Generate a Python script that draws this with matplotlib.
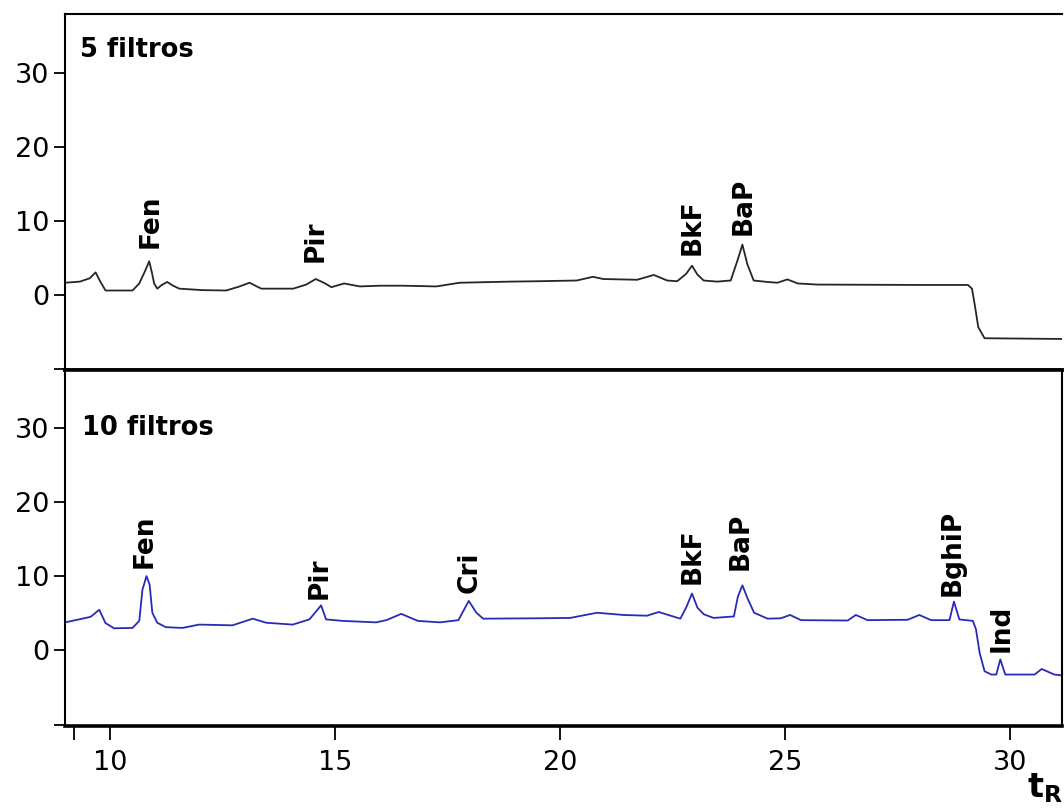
import numpy as np
import matplotlib
matplotlib.use("Agg")
import matplotlib.pyplot as plt

# chromatogram, 5 filtros
t5 = [9.0, 9.33, 9.55, 9.68, 9.78, 9.9, 10.5, 10.65, 10.78, 10.87,
      10.93, 10.98, 11.05, 11.15, 11.27, 11.4, 11.54, 12.05, 12.58, 12.88,
      13.1, 13.36, 14.07, 14.36, 14.57, 14.75, 14.92, 15.2, 15.55, 16.0,
      16.5, 17.25, 17.77, 18.89, 19.48, 20.37, 20.73, 20.96, 21.71, 22.08,
      22.38, 22.6, 22.8, 22.93, 23.05, 23.19, 23.49, 23.79, 23.94, 24.05,
      24.16, 24.3, 24.61, 24.83, 25.05, 25.28, 25.72, 27.95, 29.06, 29.15,
      29.21, 29.29, 29.43, 31.2]
y5 = [1.6, 1.75, 2.2, 3.0, 1.8, 0.55, 0.55, 1.5, 3.2, 4.5,
      3.0, 1.5, 0.8, 1.3, 1.7, 1.2, 0.8, 0.6, 0.55, 1.1,
      1.6, 0.8, 0.8, 1.35, 2.1, 1.6, 1.0, 1.5, 1.1, 1.2,
      1.2, 1.1, 1.6, 1.75, 1.8, 1.9, 2.4, 2.1, 2.0, 2.65,
      1.9, 1.8, 2.8, 3.9, 2.7, 1.9, 1.75, 1.9, 4.6, 6.75,
      4.1, 1.9, 1.7, 1.6, 2.05, 1.5, 1.35, 1.3, 1.3, 0.8,
      -1.3, -4.4, -5.9, -6.0]

# chromatogram, 10 filtros
t10 = [9.0, 9.31, 9.57, 9.76, 9.9, 10.09, 10.5, 10.65, 10.72, 10.81,
       10.88, 10.94, 11.05, 11.24, 11.61, 11.98, 12.72, 13.17, 13.47, 14.06,
       14.43, 14.69, 14.8, 15.17, 15.91, 16.14, 16.47, 16.84, 17.33, 17.74,
       17.97, 18.14, 18.29, 19.48, 20.22, 20.82, 21.41, 21.93, 22.19, 22.67,
       22.8, 22.93, 23.05, 23.19, 23.41, 23.86, 23.95, 24.05, 24.16, 24.31,
       24.61, 24.9, 25.11, 25.35, 26.39, 26.57, 26.83, 27.72, 27.98, 28.24,
       28.65, 28.75, 28.87, 29.17, 29.24, 29.32, 29.43, 29.58, 29.69, 29.78,
       29.89, 30.54, 30.7, 30.98, 31.2]
y10 = [3.8, 4.2, 4.55, 5.5, 3.7, 3.0, 3.05, 4.0, 8.2, 10.05,
       8.9, 5.1, 3.75, 3.15, 3.05, 3.5, 3.4, 4.3, 3.75, 3.5,
       4.2, 6.1, 4.2, 4.0, 3.8, 4.1, 4.95, 4.0, 3.8, 4.1,
       6.7, 5.1, 4.3, 4.35, 4.4, 5.1, 4.8, 4.7, 5.2, 4.3,
       5.8, 7.7, 5.8, 4.9, 4.4, 4.6, 7.3, 8.8, 7.1, 5.1,
       4.3, 4.35, 4.8, 4.1, 4.05, 4.8, 4.1, 4.15, 4.8, 4.1,
       4.1, 6.6, 4.2, 4.0, 2.85, -0.3, -2.8, -3.25, -3.25, -1.2,
       -3.25, -3.25, -2.5, -3.25, -3.4]

# peak labels
names5 = ["Fen", "Pir", "BkF", "BaP"]
lab_t5 = [10.9, 14.57, 22.95, 24.07]
lab_y5 = [6.35, 4.4, 5.3, 8.0]

names10 = ["Fen", "Pir", "Cri", "BkF", "BaP", "BghiP", "Ind"]
lab_t10 = [10.76, 14.65, 18.0, 22.95, 24.02, 28.72, 29.8]
lab_y10 = [11.2, 6.9, 7.8, 9.05, 10.9, 7.3, -0.2]

panel_titles = ["5 filtros", "10 filtros"]
yticks = [-10, 0, 10, 20, 30]
ytick_labels = ["", "0", "10", "20", "30"]
xticks = [9.2, 10, 15, 20, 25, 30]
xtick_labels = ["", "10", "15", "20", "25", "30"]

fig = plt.figure(figsize=(10.64, 8.08), dpi=100)
ax1 = fig.add_axes([0.0611, 0.542, 0.9370, 0.4406])
ax2 = fig.add_axes([0.0611, 0.1015, 0.9370, 0.4406])

for ax in (ax1, ax2):
    ax.set_xlim(9.0, 31.15)
    ax.set_ylim(-10.2, 37.9)
    ax.set_yticks(yticks)
    ax.set_yticklabels(ytick_labels)
    ax.tick_params(axis="y", direction="out", length=8, width=1.3,
                   labelsize=19.5, pad=3)
    for s in ax.spines.values():
        s.set_linewidth(1.5)

ax1.plot(t5, y5, color="#262626", lw=1.3)
ax2.plot(t10, y10, color="#2a2ab8", lw=1.3)

ax1.spines["right"].set_visible(False)
ax1.spines["bottom"].set_linewidth(2.6)
ax1.set_xticks([])
# thick divider between the panels
ax2.spines["top"].set_linewidth(2.6)
ax2.spines["bottom"].set_linewidth(2.6)
ax2.set_xticks(xticks)
ax2.set_xticklabels(xtick_labels)
ax2.tick_params(axis="x", direction="out", length=10, width=1.3,
                labelsize=19.5, pad=7)

for n, t, y in zip(names5, lab_t5, lab_y5):
    ax1.text(t, y, n, rotation=90, ha="center", va="bottom",
             fontsize=19, fontweight="bold")
for n, t, y in zip(names10, lab_t10, lab_y10):
    ax2.text(t, y, n, rotation=90, ha="center", va="bottom",
             fontsize=19, fontweight="bold")

ax1.text(0.015, 0.879, panel_titles[0], transform=ax1.transAxes,
         fontsize=18.5, fontweight="bold", ha="left", va="baseline")
ax2.text(0.017, 0.817, panel_titles[1], transform=ax2.transAxes,
         fontsize=18.5, fontweight="bold", ha="left", va="baseline")

fig.text(0.965, 0.004, r"$\mathbf{t}_{\mathbf{R}}$", fontsize=24,
         ha="left", va="bottom")

fig.savefig("out.png", dpi=100)
